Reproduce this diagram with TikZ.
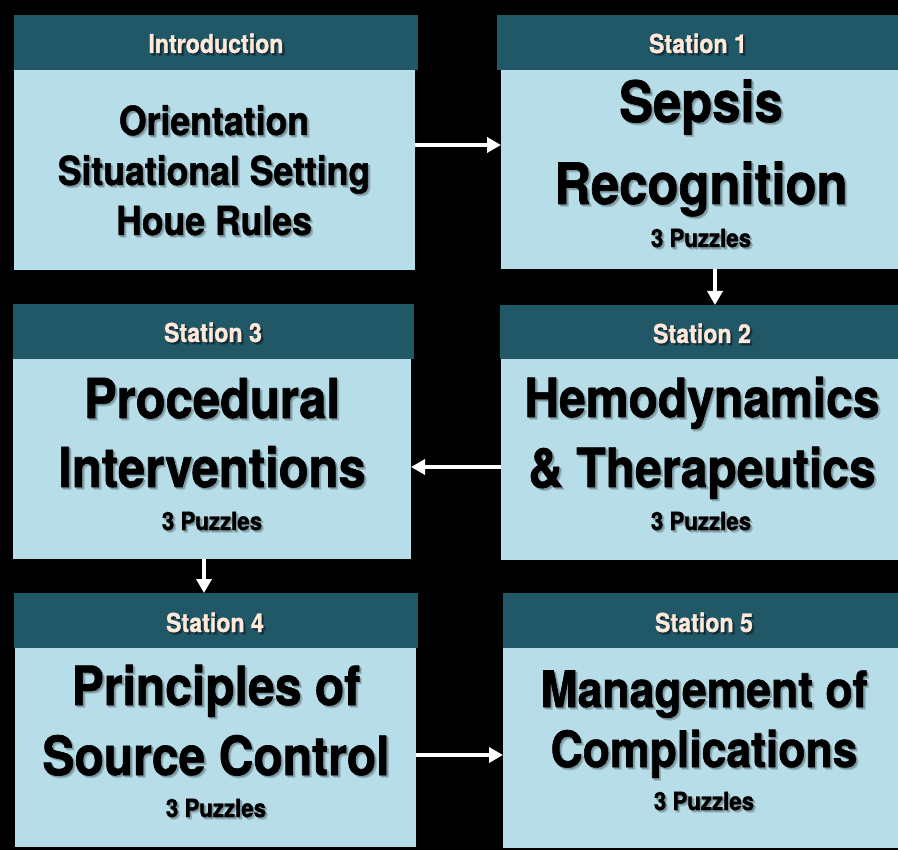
\documentclass[tikz,border=0pt]{standalone}
\usepackage{fontspec}
\usetikzlibrary{arrows.meta}
\newfontfamily\condfont{TeX Gyre Heros}[FakeStretch=0.89, BoldFeatures={FakeBold=1.2}]
\definecolor{headteal}{HTML}{215868}
\definecolor{bodyblue}{HTML}{B7DDE8}
\definecolor{headtext}{HTML}{FDE9D9}
\colorlet{bodyshadeA}{bodyblue!82!black}
\colorlet{bodyshadeB}{bodyblue!68!black}
\colorlet{headshadeA}{headteal!70!black}
\colorlet{headshadeB}{headteal!50!black}

% text drawn over a soft, two-step offset shadow
\newcommand\softshadow[3]{%
  \makebox[0pt][l]{\hspace{2.4pt}\raisebox{-2.4pt}{\textcolor{#1}{#3}}}%
  \makebox[0pt][l]{\hspace{1.4pt}\raisebox{-1.4pt}{\textcolor{#2}{#3}}}#3}
\newcommand\bodysh[1]{\softshadow{bodyshadeA}{bodyshadeB}{#1}}
\newcommand\headsh[1]{\softshadow{headshadeA}{headshadeB}{#1}}

\tikzset{
  headbox/.style={fill=headteal, draw=none, inner sep=0pt, outer sep=0pt, anchor=north west},
  bodybox/.style={fill=bodyblue, draw=none, inner sep=0pt, outer sep=0pt, anchor=north west},
  txt/.style={inner sep=0pt, anchor=base},
  headlabel/.style={txt, text=headtext, font=\condfont\bfseries\fontsize{26}{30}\selectfont},
  bigtitle/.style={txt, text=black, font=\condfont\bfseries\fontsize{#1}{#1}\selectfont},
  puzzles/.style={txt, text=black, font=\condfont\bfseries\fontsize{25}{28}\selectfont},
  flow/.style={draw=white, line width=3.5pt, -{Triangle[length=14pt,width=15pt]}},
}

\begin{document}
\begin{tikzpicture}[x=1pt,y=-1pt]
\fill[black] (0,0) rectangle (898,850);
\useasboundingbox (0,0) rectangle (898,850);

% box frames: header strip above a light body
\node[headbox, minimum width=404pt, minimum height=55pt] (introhd) at (14,15) {};
\node[bodybox, minimum width=401pt, minimum height=200pt] (introbody) at (14,70) {};
\node[headbox, minimum width=401pt, minimum height=55pt] (s1hd) at (497,15) {};
\node[bodybox, minimum width=397pt, minimum height=199pt] (s1body) at (501,70) {};
\node[headbox, minimum width=401pt, minimum height=55pt] (s3hd) at (13,304) {};
\node[bodybox, minimum width=398pt, minimum height=200pt] (s3body) at (13,359) {};
\node[headbox, minimum width=398pt, minimum height=54pt] (s2hd) at (500,305) {};
\node[bodybox, minimum width=397pt, minimum height=201pt] (s2body) at (501,359) {};
\node[headbox, minimum width=404pt, minimum height=55pt] (s4hd) at (14,593) {};
\node[bodybox, minimum width=401pt, minimum height=199pt] (s4body) at (15,648) {};
\node[headbox, minimum width=395pt, minimum height=55pt] (s5hd) at (503,593) {};
\node[bodybox, minimum width=395pt, minimum height=200pt] (s5body) at (503,648) {};

% header labels
\node[headlabel] (introlbl) at (216,53) {\headsh{Introduction}};
\node[headlabel] (s1lbl) at (698,53) {\headsh{Station 1}};
\node[headlabel] (s2lbl) at (702,343) {\headsh{Station 2}};
\node[headlabel] (s3lbl) at (213,342) {\headsh{Station 3}};
\node[headlabel] (s4lbl) at (215,632) {\headsh{Station 4}};
\node[headlabel] (s5lbl) at (704,632) {\headsh{Station 5}};

% introduction
\node[bigtitle=40] (introa) at (214,135) {\bodysh{Orientation}};
\node[bigtitle=40] (introb) at (214,185) {\bodysh{Situational Setting}};
\node[bigtitle=40] (introc) at (214,235) {\bodysh{Houe Rules}};

% station 1
\node[bigtitle=57] (s1a) at (701,122) {\bodysh{Sepsis}};
\node[bigtitle=57] (s1b) at (701,204) {\bodysh{Recognition}};
\node[puzzles] (s1c) at (701,247) {\bodysh{3 Puzzles}};

% station 2
\node[bigtitle=54] (s2a) at (702,417) {\bodysh{Hemodynamics}};
\node[bigtitle=54] (s2b) at (702,487) {\bodysh{\& Therapeutics}};
\node[puzzles] (s2c) at (701,530) {\bodysh{3 Puzzles}};

% station 3
\node[bigtitle=55] (s3a) at (212,418) {\bodysh{Procedural}};
\node[bigtitle=55] (s3b) at (212,487) {\bodysh{Interventions}};
\node[puzzles] (s3c) at (212,530) {\bodysh{3 Puzzles}};

% station 4
\node[bigtitle=54] (s4a) at (216,705) {\bodysh{Principles of}};
\node[bigtitle=54] (s4b) at (216,775) {\bodysh{Source Control}};
\node[puzzles] (s4c) at (216,817) {\bodysh{3 Puzzles}};

% station 5
\node[bigtitle=50] (s5a) at (704,707) {\bodysh{Management of}};
\node[bigtitle=50] (s5b) at (704,767) {\bodysh{Complications}};
\node[puzzles] (s5c) at (704,810) {\bodysh{3 Puzzles}};

% flow between stations
\draw[flow] ([yshift=25pt]introbody.east) -- ([yshift=24.5pt]s1body.west);
\draw[flow] ([xshift=15.5pt]s1body.south) -- ([xshift=16pt]s2hd.north);
\draw[flow] ([yshift=-7.5pt]s2body.west) -- ([yshift=-8pt]s3body.east);
\draw[flow] ([xshift=-8pt]s3body.south) -- ([xshift=-12pt]s4hd.north);
\draw[flow] ([yshift=-7.5pt]s4body.east) -- ([yshift=-7pt]s5body.west);
\end{tikzpicture}
\end{document}
